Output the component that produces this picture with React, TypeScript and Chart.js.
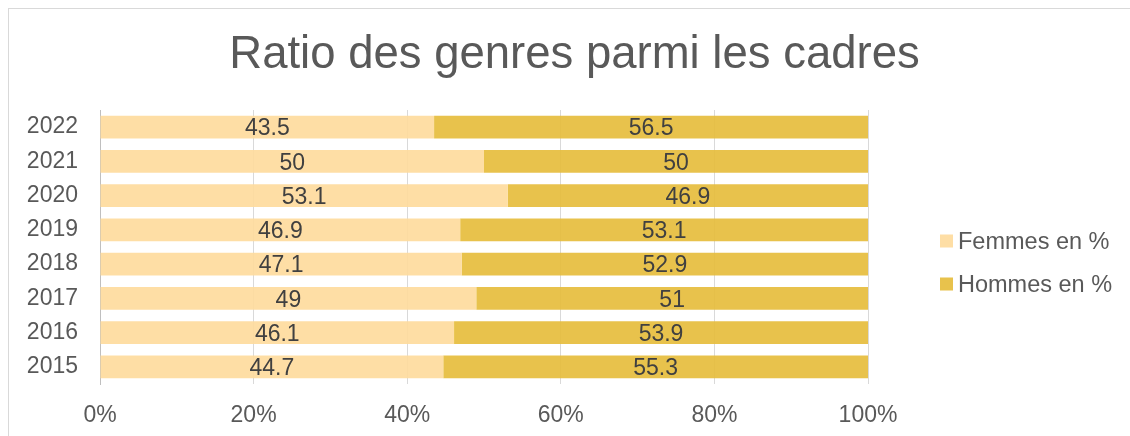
import React, { useEffect, useRef } from "react";
import { Chart, registerables } from "chart.js";

Chart.register(...registerables);

const TITLE = "Ratio des genres parmi les cadres";
const YEARS = ["2022", "2021", "2020", "2019", "2018", "2017", "2016", "2015"];
const FEMMES = [43.5, 50, 53.1, 46.9, 47.1, 49, 46.1, 44.7];
const HOMMES = [56.5, 50, 46.9, 53.1, 52.9, 51, 53.9, 55.3];
const SERIES_NAMES = ["Femmes en %", "Hommes en %"];
const X_TICKS = [0, 20, 40, 60, 80, 100];

const FONT = "'Liberation Sans', Arial, sans-serif";
const COL_F = "rgba(254,218,155,0.9)";
const COL_H = "rgba(229,187,56,0.9)";
const COL_F_SOLID = "rgb(254,222,165)";
const COL_H_SOLID = "rgb(232,194,76)";

const overlayPlugin = {
  id: "overlay",
  afterDatasetsDraw(chart: any) {
    const ctx = chart.ctx;
    ctx.save();
    ctx.font = `23px ${FONT}`;
    ctx.fillStyle = "#404040";
    ctx.textAlign = "center";
    ctx.textBaseline = "middle";
    chart.data.datasets.forEach((ds: any, di: number) => {
      const meta = chart.getDatasetMeta(di);
      meta.data.forEach((el: any, i: number) => {
        const cx = (el.x + el.base) / 2;
        ctx.fillText(String(ds.data[i]), cx, el.y + 2);
      });
    });
    ctx.restore();
  },
  afterDraw(chart: any) {
    const ctx = chart.ctx;
    ctx.save();
    ctx.font = `45.5px ${FONT}`;
    ctx.fillStyle = "#595959";
    ctx.textAlign = "center";
    ctx.textBaseline = "alphabetic";
    ctx.fillText(TITLE, 565.5, 58.5);
    const cols = [COL_F_SOLID, COL_H_SOLID];
    const ys = [232, 275];
    ctx.font = `23.5px ${FONT}`;
    ctx.textAlign = "left";
    ctx.textBaseline = "middle";
    SERIES_NAMES.forEach((name, i) => {
      ctx.fillStyle = cols[i];
      ctx.fillRect(931, ys[i] - 6.5, 13, 13);
      ctx.fillStyle = "#595959";
      ctx.fillText(name, 949, ys[i] + 1.5);
    });
    ctx.restore();
  },
};

export default function App() {
  const ref = useRef<HTMLCanvasElement | null>(null);
  useEffect(() => {
    if (!ref.current) return;
    const chart = new Chart(ref.current, {
      type: "bar",
      data: {
        labels: YEARS,
        datasets: [
          { label: SERIES_NAMES[0], data: FEMMES, backgroundColor: COL_F, barPercentage: 0.67, categoryPercentage: 1 },
          { label: SERIES_NAMES[1], data: HOMMES, backgroundColor: COL_H, barPercentage: 0.67, categoryPercentage: 1 },
        ],
      },
      options: {
        indexAxis: "y",
        animation: false,
        responsive: false,
        maintainAspectRatio: false,
        layout: { padding: { top: 101, right: 262, left: 0, bottom: 0 } },
        plugins: {
          legend: { display: false },
          title: { display: false },
          tooltip: { enabled: false },
        },
        scales: {
          x: {
            stacked: true,
            min: 0,
            max: 100,
            afterBuildTicks: (axis: any) => {
              axis.ticks = X_TICKS.map((v) => ({ value: v }));
            },
            afterFit: (axis: any) => {
              axis.height = 52;
            },
            ticks: {
              callback: (v: any) => v + "%",
              font: { family: FONT, size: 23 },
              color: "#595959",
              padding: 18,
              maxRotation: 0,
            },
            grid: { color: "#d9d9d9", drawTicks: false, lineWidth: 1 },
            border: { display: false },
          },
          y: {
            stacked: true,
            afterFit: (axis: any) => {
              axis.width = 91;
            },
            ticks: {
              font: { family: FONT, size: 23 },
              color: "#595959",
              padding: 22,
            },
            grid: { display: false, drawTicks: false },
            border: { display: true, color: "#bfbfbf", width: 1 },
          },
        },
      },
      plugins: [overlayPlugin],
    });
    return () => chart.destroy();
  }, []);
  return (
    <div
      style={{
        position: "absolute",
        left: 8,
        top: 8,
        width: 1121,
        height: 427,
        borderLeft: "1px solid #d9d9d9",
        borderTop: "1px solid #d9d9d9",
        background: "#fff",
      }}
    >
      <canvas ref={ref} width={1121} height={427} style={{ display: "block", width: 1121, height: 427 }} />
    </div>
  );
}
